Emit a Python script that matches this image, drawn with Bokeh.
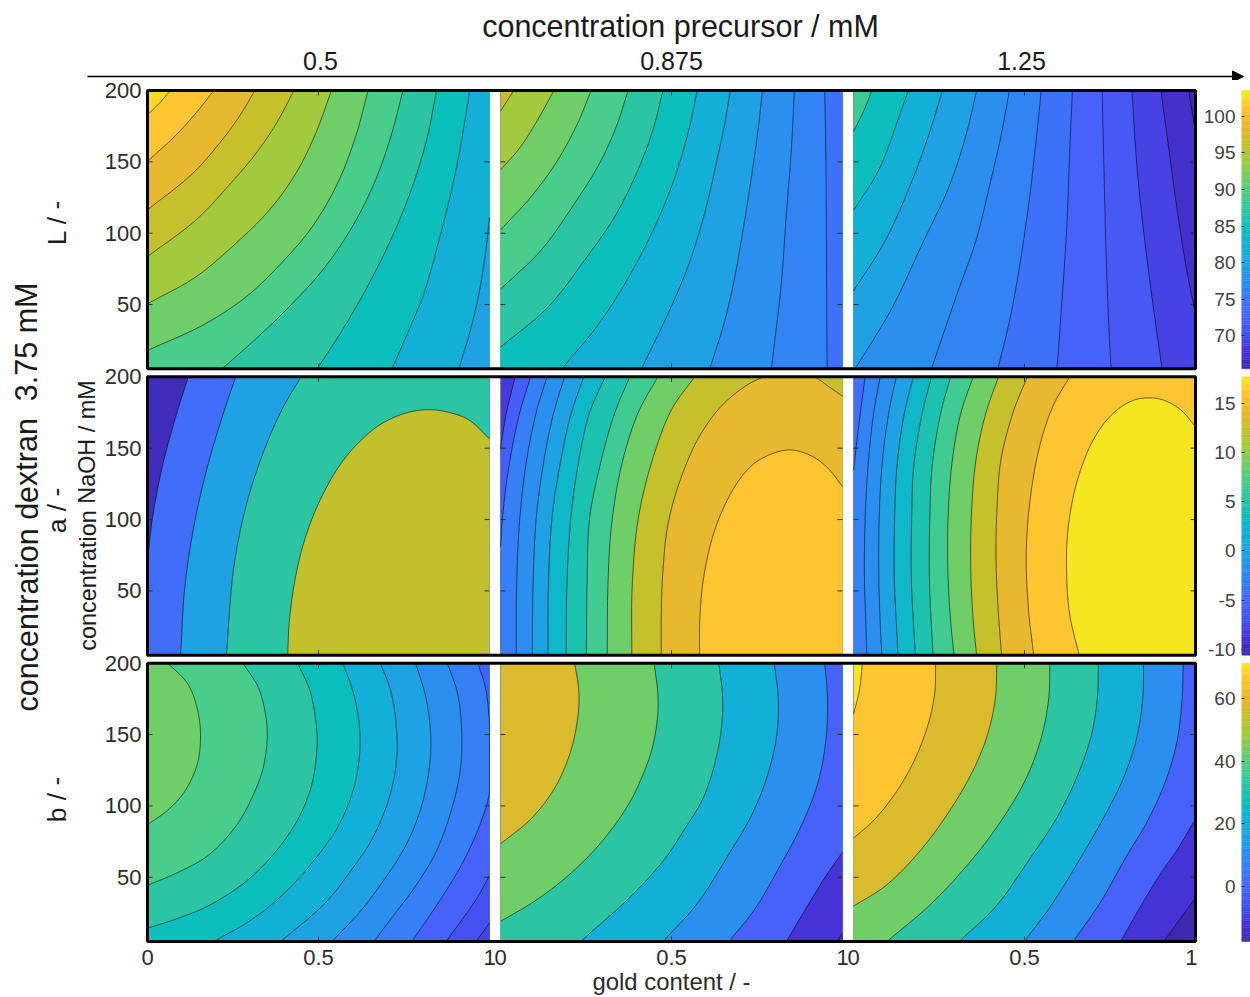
from bokeh.core.properties import value
from bokeh.embed import file_html
from bokeh.layouts import column, row
from bokeh.models import Arrow, FixedTicker, NormalHead, Range1d
from bokeh.plotting import figure
from bokeh.resources import INLINE

FONT = "Liberation Sans"
INK = "#2b2b2b"

# colour scale of the contour bands (low to high); band levels below index into it
PALETTE = ["#3e2aae", "#4633d8", "#4650f0", "#4662fa", "#3a78f8", "#2b8ff0", "#1fa2e3", "#12b0d6", "#0abfbc",
           "#2cc5a4", "#48cd8a", "#6fce68", "#a3ca3e", "#c5c02b", "#e8b82e", "#fdc530", "#f5e61f"]

precursor = ["0.5", "0.875", "1.25"]
gold_ticks = [0, 0.5, 1]
naoh_ticks = [50, 100, 150, 200]
cb_L_ticks = [70, 75, 80, 85, 90, 95, 100]
cb_L_range = [65.5, 103.5]
cb_a_ticks = [-10, -5, 0, 5, 10, 15]
cb_a_range = [-10.6, 17.7]
cb_b_ticks = [0, 20, 40, 60]
cb_b_range = [-17.7, 71.4]

# L / -
L1_band = [15.6, 15, 14, 13, 12, 11, 10, 9, 8, 7, 6]
L1_gold = [[.067, .033, 0], [.194, .140, .082, 0], [.314, .267, .209, .131, 0], [.428, .379, .316, .238, .140, 0],
           [.538, .491, .433, .355, .257, .140, 0], [.645, .608, .555, .481, .394, .287, .160, 0],
           [.747, .711, .662, .598, .511, .394, .306, .218], [.845, .818, .774, .715, .642, .569, .496],
           [.942, .920, .891, .852, .808, .764, .715], [1, .988, .969, .944, .910]]
L1_naoh = [[200, 190.7, 183], [200, 183.7, 168.5, 150.3], [200, 181.3, 162.6, 141.6, 116.4],
           [200, 177.8, 155.6, 133.5, 108.9, 83.7], [200, 169.6, 141.6, 115.9, 92.6, 69.2, 50.6],
           [200, 167.3, 134.6, 104.3, 79.7, 55.2, 35.4, 17.9], [200, 167.3, 134.6, 104.3, 73.9, 43.6, 23.7, 5],
           [200, 167.3, 132.3, 97.3, 62.2, 31.9, 5], [200, 167.3, 132.3, 94.9, 57.6, 31.9, 5],
           [111.3, 85.6, 57.6, 31.9, 5]]
L2_band = [13, 12, 11, 10, 9, 8, 7, 6, 5, 4.5, 3.7]
L2_gold = [[.039, 0], [.156, .109, .056, 0], [.265, .226, .168, .090, 0], [.373, .339, .290, .217, .119, 0],
           [.475, .446, .402, .334, .246, .139, 0], [.575, .553, .514, .460, .392, .295, .180],
           [.672, .656, .631, .597, .548, .490, .412], [.766, .753, .734, .714, .685, .656, .612],
           [.859, .851, .836, .821, .792], [.948, .951, .953, .955]]
L2_naoh = [[200, 185.5], [200, 179.6, 159.7, 144.4], [200, 177.3, 151.5, 125.7, 102.3],
           [200, 174.9, 149.1, 121, 88.2, 60.8], [200, 172.6, 144.4, 111.6, 81.2, 48.3, 20.2],
           [200, 174.9, 142.1, 109.3, 76.5, 39, 5], [200, 177.3, 149.1, 114, 76.5, 43.7, 5],
           [200, 172.6, 139.8, 109.3, 69.4, 39, 5], [200, 160.9, 114, 64.8, 5], [200, 160.9, 90.5, 5]]
L3_band = [9.6, 8, 7, 6, 5, 4.5, 3.7, 3, 2.5, 1.5, 0.7, 0]
L3_gold = [[.054, .029, 0], [.160, .123, .074, 0], [.260, .225, .172, .093, 0], [.360, .328, .279, .201, .113, .005],
           [.456, .431, .397, .358, .299, .228], [.549, .534, .515, .485, .456, .422], [.640, .632, .623, .608, .595],
           [.727, .732, .738, .745, .753], [.814, .828, .848, .873, .902], [.899, .917, .941, .971, 1], [.980, 1]]
L3_naoh = [[200, 185.4, 171.3], [200, 174.8, 144.3, 116], [200, 172.5, 137.2, 94.9, 59.6],
           [200, 167.8, 132.5, 92.5, 47.8, 5], [200, 167.8, 132.5, 94.9, 54.9, 5], [200, 165.4, 125.4, 76, 38.4, 5],
           [200, 156, 101.9, 47.8, 5], [200, 149, 90.2, 43.1, 5], [200, 149, 101.9, 54.9, 5],
           [200, 167.8, 125.4, 78.4, 43.1], [200, 170.1]]

# a / -
a1_band = [0.3, 3.5, 6, 9, 12.9]
a1_gold = [[.119, .080, .041, .012, 0], [.258, .222, .178, .139, .109, .097], [.449, .393, .334, .285, .251, .231],
           [1, .939, .881, .822, .755, .688, .636, .566, .500, .456, .429, .414, .410]]
a1_naoh = [[200, 169.9, 134.7, 97.1, 68.9], [200, 174.6, 139.4, 99.5, 52.5, 5], [200, 177, 144.1, 106.5, 64.2, 5],
           [156.5, 169.9, 175.1, 177, 174.6, 167.6, 158.2, 139.4, 111.2, 83, 54.8, 26.6, 5]]
a2_band = [1.2, 2.8, 4.3, 5, 6, 7.5, 8.5, 9.7, 11, 13, 14, 15]
a2_gold = [[.043, .017, 0], [.088, .056, .026, .007, 0], [.136, .104, .075, .056, .047, .046],
           [.187, .153, .124, .104, .095, .093], [.244, .207, .173, .150, .140, .139],
           [.306, .260, .226, .205, .194, .192], [.378, .334, .290, .260, .253, .251],
           [.460, .402, .353, .324, .314, .312], [.568, .500, .441, .402, .385, .384],
           [1, .958, .914, .773, .665, .587, .529, .490, .475, .470, .470],
           [1, .958, .909, .841, .756, .705, .658, .620, .594, .583, .582]]
a2_naoh = [[200, 174.6, 150], [200, 174.6, 139.4, 104.2, 80.7], [200, 174.6, 139.4, 99.5, 52.5, 5],
           [200, 172.3, 137, 99.5, 52.5, 5], [200, 174.6, 137, 99.5, 52.5, 5], [200, 174.6, 137, 99.5, 52.5, 5],
           [200, 174.6, 137, 99.5, 52.5, 5], [200, 174.6, 137, 94.8, 52.5, 5], [200, 177, 139.4, 99.5, 52.5, 5],
           [186.4, 193.4, 200, 200, 184, 160.5, 130, 97.1, 64.2, 31.3, 5],
           [123, 135.9, 144.6, 148.8, 141.7, 130, 111.2, 87.7, 59.5, 31.3, 5]]
a3_band = [3.5, 4.5, 5, 6, 7.5, 8.5, 9.7, 11, 13, 14, 15, 16]
a3_gold = [[.034, .020, 0], [.078, .059, .044, .034, .032, .036, .039], [.125, .103, .083, .075, .074, .078, .083],
           [.175, .147, .127, .120, .119, .125, .130], [.228, .201, .176, .170, .169, .175, .181],
           [.284, .255, .230, .223, .222, .227, .233], [.350, .314, .289, .277, .276, .284, .294],
           [.424, .387, .358, .345, .343, .350, .360], [.508, .466, .431, .419, .417, .424, .433],
           [.632, .583, .544, .515, .505, .512, .527],
           [1, .956, .907, .868, .819, .760, .701, .652, .627, .623, .632, .660]]
a3_naoh = [[200, 174.6, 134.7], [200, 174.6, 141.7, 99.5, 59.5, 29, 5], [200, 174.6, 137, 99.5, 59.5, 29, 5],
           [200, 172.3, 137, 99.5, 59.5, 29, 5], [200, 174.6, 137, 99.5, 59.5, 29, 5],
           [200, 174.6, 137, 99.5, 59.5, 29, 5], [200, 174.6, 141.7, 104.2, 64.2, 29, 5],
           [200, 174.6, 141.7, 104.2, 64.2, 29, 5], [200, 174.6, 141.7, 104.2, 68.9, 33.7, 5],
           [200, 179.3, 151.1, 111.2, 73.6, 36, 5],
           [165.2, 177, 183.6, 185.2, 183.6, 174.6, 155.8, 125.3, 92.4, 64.2, 33.7, 5]]

# b / -
b1_band = [11, 10, 9, 8, 7, 6, 5, 4.3, 3, 2, 1.5]
b1_gold = [[.059, .118, .147, .155, .145, .108, .059, 0], [.279, .324, .345, .350, .338, .309, .260, .176, .088, 0],
           [.439, .475, .492, .496, .480, .441, .373, .284, .176, .078, 0],
           [.571, .603, .620, .620, .603, .559, .490, .402, .304, .194],
           [.681, .711, .728, .728, .706, .657, .598, .520, .390], [.784, .814, .828, .824, .799, .755, .686, .618, .539],
           [.877, .907, .919, .914, .887, .843, .784, .725, .662], [.966, .988, 1, 1, .971, .922, .863, .773],
           [1, .961, .873], [1, .961]]
b1_naoh = [[200, 185.4, 166.5, 147.7, 128.8, 109.9, 97, 86.8],
           [200, 183, 164.2, 147.7, 126.4, 107.6, 86.3, 65.1, 53.3, 44.4],
           [200, 180.7, 159.4, 142.9, 114.6, 91.1, 67.5, 46.3, 29.8, 20.3, 14.4],
           [200, 178.3, 154.7, 135.9, 112.3, 86.3, 62.8, 39.2, 20.3, 5],
           [200, 180.7, 154.7, 131.1, 105.2, 76.9, 55.7, 32.1, 5], [200, 175.9, 150, 126.4, 98.1, 72.2, 46.3, 25, 5],
           [200, 178.3, 150, 124.1, 95.8, 67.5, 43.9, 25, 5], [200, 183, 157.1, 109.9, 86.3, 60.4, 36.8, 5],
           [51, 34.5, 5], [18, 5]]
b2_band = [13.6, 11, 9, 7, 5, 3, 1, 0]
b2_gold = [[.217, .229, .226, .202, .158, .090, 0], [.449, .460, .458, .441, .412, .373, .295, .197, .100, 0],
           [.638, .649, .647, .628, .592, .539, .480, .382, .234], [.800, .812, .808, .784, .739, .665, .573, .475],
           [.948, .956, .952, .929, .880, .812, .743, .668], [1, .958, .909, .836], [1, .982]]
b2_naoh = [[200, 180.7, 161.8, 135.9, 112.3, 91.1, 73.4], [200, 178.3, 159.4, 138.2, 119.4, 100.5, 74.6, 51, 33.3, 19.1],
           [200, 178.3, 157.1, 131.1, 105.2, 84, 62.8, 36.8, 5], [200, 175.9, 150, 124.1, 95.8, 65.1, 30.9, 5],
           [200, 175.9, 147.7, 117, 86.3, 55.7, 27.4, 5], [67.5, 53.3, 34.5, 5], [10.9, 5]]
b3_band = [16, 15, 13.6, 11, 9, 7, 5, 3, 1, 0]
b3_gold = [[.026, .017, 0], [.240, .238, .221, .181, .132, .064, 0], [.419, .415, .392, .348, .279, .191, .093, 0],
           [.574, .571, .549, .505, .436, .348, .230, .098], [.716, .713, .696, .652, .593, .515, .417, .309],
           [.848, .846, .828, .789, .730, .662, .583, .500], [.964, .961, .946, .912, .858, .799, .721, .642],
           [1, .951, .897, .843, .781], [1, .961, .907]]
b3_naoh = [[200, 180.7, 164.2], [200, 180.7, 159.4, 133.5, 112.3, 91.1, 77.4],
           [200, 175.9, 150, 124.1, 95.8, 67.5, 43.9, 29.8], [200, 175.9, 147.7, 119.4, 91.1, 62.8, 32.1, 5],
           [200, 175.9, 150, 119.4, 91.1, 62.8, 29.8, 5], [200, 175.9, 147.7, 119.4, 91.1, 62.8, 32.1, 5],
           [200, 175.9, 145.3, 117, 88.7, 65.1, 32.1, 5], [91.1, 71, 52.2, 31, 5], [35.6, 22.7, 5]]

# layout of the stacked small multiples, in axis units
Y0, Y1 = 5.0, 200.0
PX_X, PX_Y = 342.0, 278.5 / 195          # pixels per gold unit, per NaOH unit
GAP_X = 11 / PX_X
GAP_Y = 8 / PX_Y
SPAN_Y = Y1 - Y0
X_OFFSETS = [i * (1 + GAP_X) for i in range(3)]
Y_BASES = [2 * (SPAN_Y + GAP_Y), SPAN_Y + GAP_Y, 0.0]   # rows L, a, b, top down
PAD_X, PAD_Y = 2 / PX_X, 2 / PX_Y        # room outside the rows for their thick frame
X_END = X_OFFSETS[2] + 1
Y_END = Y_BASES[0] + SPAN_Y
OUTER_Y = Range1d(-PAD_Y, Y_END + PAD_Y)


def colour(level):
    i = min(int(level), len(PALETTE) - 2)
    t = level - i
    a, b = PALETTE[i], PALETTE[i + 1]
    ch = [round((1 - t) * int(a[k:k + 2], 16) + t * int(b[k:k + 2], 16)) for k in (1, 3, 5)]
    return "#%02x%02x%02x" % tuple(ch)


def perimeter(x, y):
    if y == Y0:
        return x
    if x == 1:
        return 1 + (y - Y0) / SPAN_Y
    if y == Y1:
        return 2 + (1 - x)
    return 3 + (Y1 - y) / SPAN_Y


CORNERS = [(1.0, (1, Y0)), (2.0, (1, Y1)), (3.0, (0, Y1)), (4.0, (0, Y0))]


def curve(gx, gy, steps=10):
    """Draw a contour through its read points as a smooth (centripetal Catmull-Rom) line, as the original is."""
    if len(gx) < 3:
        return list(gx), list(gy)
    P = [(x * PX_X, y * PX_Y) for x, y in zip(gx, gy)]
    first = (2 * P[0][0] - P[1][0], 2 * P[0][1] - P[1][1])
    last = (2 * P[-1][0] - P[-2][0], 2 * P[-1][1] - P[-2][1])
    Q = [first] + P + [last]
    xs, ys = [gx[0]], [gy[0]]
    for i in range(1, len(Q) - 2):
        p0, p1, p2, p3 = Q[i - 1], Q[i], Q[i + 1], Q[i + 2]

        def knot(a, b):
            return max(((a[0] - b[0]) ** 2 + (a[1] - b[1]) ** 2) ** 0.25, 1e-6)

        t0 = 0.0
        t1 = t0 + knot(p0, p1)
        t2 = t1 + knot(p1, p2)
        t3 = t2 + knot(p2, p3)
        for s in range(1, steps + 1):
            t = t1 + (t2 - t1) * s / steps
            pt = []
            for d in (0, 1):
                a1 = (t1 - t) / (t1 - t0) * p0[d] + (t - t0) / (t1 - t0) * p1[d]
                a2 = (t2 - t) / (t2 - t1) * p1[d] + (t - t1) / (t2 - t1) * p2[d]
                a3 = (t3 - t) / (t3 - t2) * p2[d] + (t - t2) / (t3 - t2) * p3[d]
                b1 = (t2 - t) / (t2 - t0) * a1 + (t - t0) / (t2 - t0) * a2
                b2 = (t3 - t) / (t3 - t1) * a2 + (t - t1) / (t3 - t1) * a3
                pt.append((t2 - t) / (t2 - t1) * b1 + (t - t1) / (t2 - t1) * b2)
            xs.append(min(1.0, max(0.0, pt[0] / PX_X)))
            ys.append(min(Y1, max(Y0, pt[1] / PX_Y)))
    xs[-1], ys[-1] = gx[-1], gy[-1]
    return xs, ys


def region(gx, gy, cx, cy):
    """Close a contour along the panel edge, counter-clockwise, from its end back to its start."""
    s_end, s_start = perimeter(gx[-1], gy[-1]), perimeter(gx[0], gy[0])
    if s_start < s_end:
        s_start += 4
    xs, ys = list(cx), list(cy)
    for k in (0, 4):
        for s, c in CORNERS:
            if s_end < s + k < s_start:
                xs.append(c[0])
                ys.append(c[1])
    return xs, ys


def main_fig(rows):
    p = figure(width=45 + 1052, height=8 + 855 + 54, output_backend="svg", toolbar_location=None,
               x_range=Range1d(-PAD_X, X_END + PAD_X), y_range=OUTER_Y,
               min_border_left=45, min_border_right=0, min_border_top=8, min_border_bottom=54)
    p.grid.visible = False
    p.outline_line_color = None
    y_pos = [b + t - Y0 for b in Y_BASES for t in naoh_ticks]
    p.yaxis.ticker = FixedTicker(ticks=y_pos)
    p.yaxis.major_label_overrides = {pos: str(t) for pos, t in zip(y_pos, naoh_ticks * 3)}
    p.yaxis.axis_line_color = None
    p.yaxis.major_tick_out = 0
    p.yaxis.major_tick_in = 0
    p.yaxis.minor_tick_line_color = None
    p.yaxis.major_label_text_font = FONT
    p.yaxis.major_label_text_font_size = "22px"
    p.yaxis.major_label_text_color = INK
    p.yaxis.major_label_standoff = 4
    x_pos = [off + t for off in X_OFFSETS for t in gold_ticks]
    p.xaxis.ticker = FixedTicker(ticks=x_pos)
    p.xaxis.major_label_overrides = {pos: str(t) for pos, t in zip(x_pos, gold_ticks * 3)}
    p.xaxis.axis_line_color = None
    p.xaxis.major_tick_out = 0
    p.xaxis.major_tick_in = 0
    p.xaxis.minor_tick_line_color = None
    p.xaxis.major_label_text_font = FONT
    p.xaxis.major_label_text_font_size = "22px"
    p.xaxis.major_label_text_color = INK
    p.xaxis.major_label_standoff = 6
    p.xaxis.axis_label = "gold content / -"
    p.xaxis.axis_label_text_font = FONT
    p.xaxis.axis_label_text_font_style = "normal"
    p.xaxis.axis_label_text_font_size = "23.9px"
    p.xaxis.axis_label_text_color = INK
    p.xaxis.axis_label_standoff = 0
    tick_dx, tick_dy = 5 / PX_X, 5 / PX_Y
    for base, panels in zip(Y_BASES, rows):
        shift = base - Y0
        for off, (band, gold, naoh) in zip(X_OFFSETS, panels):
            p.quad(left=[off], right=[off + 1], bottom=[base], top=[base + SPAN_Y], fill_color=colour(band[0]),
                   line_color="#808080", line_width=0.8)
            curves = [curve(g, n) for g, n in zip(gold, naoh)]
            polys = [region(g, n, c[0], c[1]) for g, n, c in zip(gold, naoh, curves)]
            p.patches([[x + off for x in pg[0]] for pg in polys], [[y + shift for y in pg[1]] for pg in polys],
                      fill_color=[colour(b) for b in band[1:]], line_color=None)
            p.multi_line([[x + off for x in c[0]] for c in curves], [[y + shift for y in c[1]] for c in curves],
                         line_color="black", line_alpha=0.7, line_width=0.8)
            x0s, y0s, x1s, y1s = [], [], [], []
            for t in naoh_ticks:
                x0s += [off, off + 1]
                x1s += [off + tick_dx, off + 1 - tick_dx]
                y0s += [t + shift, t + shift]
                y1s += [t + shift, t + shift]
            x0s += [off + gold_ticks[1]] * 2
            x1s += [off + gold_ticks[1]] * 2
            y0s += [base, base + SPAN_Y]
            y1s += [base + tick_dy, base + SPAN_Y - tick_dy]
            p.segment(x0s, y0s, x1s, y1s, line_color="#222222", line_width=0.9)
        p.quad(left=[0], right=[X_END], bottom=[base], top=[base + SPAN_Y], fill_color=None,
               line_color="black", line_width=3)
    return p


def colourbars(scales):
    p = figure(width=53, height=8 + 855 + 54, output_backend="svg", toolbar_location=None,
               x_range=Range1d(0, 1), y_range=OUTER_Y,
               min_border_left=44, min_border_right=0, min_border_top=8, min_border_bottom=54)
    p.grid.visible = False
    p.outline_line_color = None
    p.xaxis.visible = False
    n = 120
    positions, labels = [], []
    for base, (ticks, rng) in zip(Y_BASES, scales):
        step = SPAN_Y / n
        bottoms = [base + i * step for i in range(n)]
        tops = [b + step for b in bottoms]
        cols = [colour((i + 0.5) / n * (len(PALETTE) - 1)) for i in range(n)]
        p.quad(left=0, right=1, bottom=bottoms, top=tops, fill_color=cols, line_color=cols, line_width=0.5)
        for t in ticks:
            positions.append(base + (t - rng[0]) / (rng[1] - rng[0]) * SPAN_Y)
            labels.append(str(t))
    p.yaxis.ticker = FixedTicker(ticks=positions)
    p.yaxis.major_label_overrides = dict(zip(positions, labels))
    p.yaxis.axis_line_color = None
    p.yaxis.major_tick_out = 0
    p.yaxis.major_tick_in = 3
    p.yaxis.major_tick_line_color = "#333333"
    p.yaxis.minor_tick_line_color = None
    p.yaxis.major_label_text_font = FONT
    p.yaxis.major_label_text_font_size = "19px"
    p.yaxis.major_label_text_color = "#404040"
    p.yaxis.major_label_standoff = 6
    return p


def text_fig(width, height, xr, yr):
    p = figure(width=width, height=height, output_backend="svg", toolbar_location=None,
               x_range=Range1d(*xr), y_range=Range1d(*yr),
               min_border_left=0, min_border_right=0, min_border_top=0, min_border_bottom=0)
    p.axis.visible = False
    p.grid.visible = False
    p.outline_line_color = None
    return p


def label(p, x, y, txt, size, angle=0.0):
    p.text([x], [y], text=[txt], angle=angle, text_font=value(FONT), text_font_size=size, text_color="#1a1a1a",
           text_align="center", text_baseline="middle")


# header: page pixels 8..1250 across, 8..80 down
head = text_fig(1242, 72, (8, 1250), (80, 8))
label(head, 680, 25, "concentration precursor / mM", "30.5px")
for cx, t in zip([320, 671, 1021], precursor):
    label(head, cx, 60, t, "25px")
head.add_layout(Arrow(end=NormalHead(size=11, fill_color="black", line_color="black"), x_start=87, y_start=76,
                      x_end=1243, y_end=76, line_color="black", line_width=1.3))

# left strip with the rotated labels; its frame lines up with the main frame (page pixels 88..943 down)
strip = text_fig(92, 917, (8, 100), (943, 88))
label(strip, 26, 496.5, "concentration dextran\u00a0\u00a03.75 mM", "30.5px", 1.5708)
label(strip, 56, 222, "L / -", "26.5px", 1.5708)
label(strip, 56, 510, "a / -", "26.5px", 1.5708)
label(strip, 56, 799, "b / -", "26.5px", 1.5708)
label(strip, 87, 515, "concentration NaOH / mM", "23.4px", 1.5708)

panels_main = [
    [(L1_band, L1_gold, L1_naoh), (L2_band, L2_gold, L2_naoh), (L3_band, L3_gold, L3_naoh)],
    [(a1_band, a1_gold, a1_naoh), (a2_band, a2_gold, a2_naoh), (a3_band, a3_gold, a3_naoh)],
    [(b1_band, b1_gold, b1_naoh), (b2_band, b2_gold, b2_naoh), (b3_band, b3_gold, b3_naoh)],
]
bars = colourbars([(cb_L_ticks, cb_L_range), (cb_a_ticks, cb_a_range), (cb_b_ticks, cb_b_range)])

root = column(head, row(strip, main_fig(panels_main), bars, spacing=0), spacing=0, margin=(8, 0, 0, 8))
open("out.html", "w").write(file_html(root, INLINE))
